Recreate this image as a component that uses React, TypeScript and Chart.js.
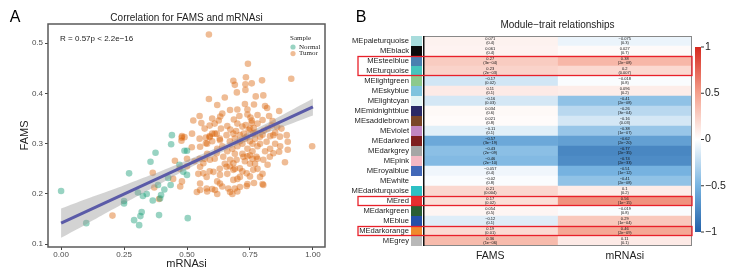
import React, { useEffect, useRef } from "react";
import { Chart, registerables } from "chart.js";
Chart.register(...registerables);

// ---------- Panel A data ----------
const normalPoints: [number, number][] = [
  [0.0, 0.206], [0.1, 0.142], [0.27, 0.241], [0.25, 0.186], [0.25, 0.181], [0.305, 0.203],
  [0.325, 0.196], [0.34, 0.2], [0.29, 0.148], [0.32, 0.164], [0.315, 0.156], [0.31, 0.138],
  [0.355, 0.264], [0.375, 0.282], [0.364, 0.187], [0.385, 0.218], [0.41, 0.209], [0.397, 0.198],
  [0.393, 0.191], [0.389, 0.158], [0.44, 0.317], [0.437, 0.299], [0.435, 0.218], [0.49, 0.286],
  [0.5, 0.286], [0.485, 0.244], [0.5, 0.238], [0.503, 0.152], [0.425, 0.232], [0.47, 0.258],
];
const tumorPoints: [number, number][] = [
  [0.587, 0.517], [0.742, 0.459], [0.734, 0.432], [0.684, 0.425], [0.69, 0.417], [0.732, 0.418],
  [0.757, 0.42], [0.798, 0.426], [0.914, 0.429], [0.732, 0.407], [0.698, 0.402], [0.773, 0.394],
  [0.803, 0.396], [0.587, 0.389], [0.65, 0.392], [0.62, 0.377], [0.73, 0.379], [0.766, 0.378],
  [0.81, 0.375], [0.818, 0.371], [0.866, 0.365], [0.525, 0.346], [0.55, 0.355], [0.557, 0.341],
  [0.59, 0.336], [0.626, 0.346], [0.632, 0.354], [0.671, 0.367], [0.7, 0.368], [0.708, 0.355],
  [0.74, 0.368], [0.74, 0.358], [0.752, 0.352], [0.757, 0.346], [0.78, 0.357], [0.8, 0.347],
  [0.826, 0.355], [0.836, 0.336], [0.858, 0.333], [0.686, 0.348], [0.672, 0.328], [0.733, 0.337],
  [0.757, 0.341], [0.765, 0.331], [0.72, 0.334], [0.745, 0.327], [0.75, 0.33], [0.635, 0.33],
  [0.61, 0.32], [0.479, 0.312], [0.6, 0.32], [0.59, 0.315], [0.575, 0.312], [0.77, 0.322],
  [0.8, 0.318], [0.83, 0.315], [0.805, 0.326], [0.85, 0.322], [0.875, 0.33],
  [0.552, 0.294], [0.575, 0.301], [0.59, 0.313], [0.618, 0.32], [0.631, 0.307], [0.657, 0.317],
  [0.684, 0.32], [0.71, 0.317], [0.737, 0.314], [0.763, 0.32], [0.79, 0.314], [0.816, 0.304],
  [0.843, 0.317], [0.869, 0.314], [0.896, 0.317], [0.9, 0.304], [0.9, 0.288], [0.866, 0.284],
  [0.843, 0.281], [0.829, 0.274], [0.803, 0.268], [0.776, 0.274], [0.75, 0.277], [0.724, 0.274],
  [0.697, 0.268], [0.671, 0.268], [0.644, 0.274], [0.618, 0.281], [0.591, 0.268], [0.565, 0.261],
  [0.552, 0.254], [0.565, 0.241], [0.578, 0.234], [0.605, 0.244], [0.631, 0.238], [0.657, 0.254],
  [0.684, 0.248], [0.71, 0.251], [0.737, 0.241], [0.763, 0.248], [0.79, 0.234], [0.552, 0.221],
  [0.539, 0.204], [0.552, 0.208], [0.578, 0.211], [0.611, 0.208], [0.631, 0.221], [0.664, 0.211],
  [0.671, 0.204], [0.684, 0.228], [0.69, 0.211], [0.71, 0.214], [0.737, 0.216], [0.766, 0.222],
  [0.803, 0.218], [0.71, 0.234], [0.684, 0.261],
  [0.997, 0.295], [0.889, 0.263], [0.82, 0.258], [0.204, 0.157], [0.364, 0.242], [0.37, 0.213],
  [0.389, 0.19], [0.445, 0.23], [0.473, 0.215], [0.48, 0.225], [0.452, 0.266], [0.48, 0.315],
  [0.49, 0.313], [0.478, 0.306], [0.519, 0.293],
  [0.62, 0.29], [0.64, 0.295], [0.66, 0.285], [0.68, 0.29], [0.7, 0.295], [0.72, 0.3],
  [0.74, 0.29], [0.76, 0.285], [0.78, 0.295], [0.6, 0.305], [0.63, 0.31], [0.67, 0.305],
  [0.69, 0.31], [0.71, 0.305], [0.73, 0.31], [0.75, 0.305], [0.77, 0.31], [0.79, 0.3],
  [0.65, 0.26], [0.67, 0.255], [0.69, 0.28], [0.73, 0.265], [0.75, 0.26], [0.77, 0.26],
  [0.72, 0.28], [0.74, 0.275], [0.76, 0.27], [0.61, 0.27], [0.63, 0.25], [0.58, 0.28],
  [0.57, 0.27], [0.55, 0.27], [0.53, 0.265], [0.545, 0.24], [0.59, 0.245], [0.62, 0.225],
  [0.64, 0.215], [0.66, 0.24], [0.7, 0.23], [0.72, 0.245], [0.75, 0.235], [0.78, 0.25],
  [0.8, 0.24], [0.83, 0.29], [0.85, 0.3], [0.87, 0.295], [0.81, 0.285], [0.82, 0.33],
  [0.84, 0.345], [0.78, 0.34], [0.66, 0.335], [0.7, 0.34], [0.64, 0.36], [0.6, 0.35],
  [0.57, 0.33], [0.55, 0.31], [0.52, 0.32], [0.5, 0.27], [0.5, 0.255], [0.47, 0.25],
  [0.58, 0.3], [0.61, 0.34], [0.695, 0.325], [0.725, 0.32], [0.76, 0.3], [0.78, 0.27],
  [0.69, 0.25], [0.74, 0.22], [0.62, 0.2], [0.6, 0.21], [0.58, 0.205], [0.68, 0.2],
  [0.7, 0.205], [0.8, 0.22],
];
const fitX = [0, 1];
const fitY = [0.142, 0.373];
const bandX = [0, 0.1, 0.2, 0.3, 0.4, 0.5, 0.6, 0.7, 0.8, 0.9, 1.0];
const bandLow = [0.113, 0.14, 0.168, 0.195, 0.222, 0.249, 0.274, 0.297, 0.318, 0.337, 0.356];
const bandHigh = [0.171, 0.19, 0.208, 0.227, 0.246, 0.267, 0.288, 0.311, 0.336, 0.363, 0.39];
const scatterXTicks = [0, 0.25, 0.5, 0.75, 1];
const scatterYTicks = [0.1, 0.2, 0.3, 0.4, 0.5];
const corrLabel = "R = 0.57p < 2.2e\u221216";
const legendGroups = ["Normal", "Tumor"];

// ---------- Panel B data ----------
const modules = [
  "MEpaleturquoise", "MEblack", "MEsteelblue", "MEturquoise", "MElightgreen", "MEskyblue",
  "MElightcyan", "MEmidnightblue", "MEsaddlebrown", "MEviolet", "MEdarkred", "MEdarkgrey",
  "MEpink", "MEroyalblue", "MEwhite", "MEdarkturquoise", "MEred", "MEdarkgreen", "MEblue",
  "MEdarkorange", "MEgrey",
];
const moduleColors = [
  "#a8dcdc", "#0a0a0a", "#4a7fb0", "#46c4bc", "#8cc98c", "#7fc4de", "#e2f4f4", "#2a2a66",
  "#7a4628", "#c286c2", "#7e1e1e", "#a6a6a6", "#f4b8c4", "#4268b8", "#ffffff", "#2ec0c4",
  "#e62e2e", "#2a5e34", "#2450a8", "#ef8a2e", "#b8b8b8",
];
const traits = ["FAMS", "mRNAsi"];
const famsCor = [0.071, 0.061, 0.27, 0.23, -0.17, 0.11, -0.16, 0.034, 0.021, -0.11, -0.57, -0.43,
  -0.46, -0.057, -0.02, 0.21, 0.17, 0.054, -0.12, 0.19, 0.36];
const famsP = ["0.4", "0.4", "3e-04", "2e-03", "0.02", "0.1", "0.03", "0.6", "0.8", "0.1", "3e-19",
  "2e-09", "2e-10", "0.4", "0.8", "0.004", "0.02", "0.5", "0.1", "0.01", "1e-06"];
const mrnasiCor = [-0.075, 0.027, 0.38, 0.2, -0.018, 0.096, -0.41, -0.26, -0.16, -0.38, -0.62,
  -0.77, -0.74, -0.51, -0.41, 0.1, 0.56, -0.019, 0.29, 0.46, 0.11];
const mrnasiP = ["0.3", "0.7", "2e-08", "0.007", "0.8", "0.2", "2e-08", "3e-04", "0.03", "1e-07",
  "2e-20", "2e-35", "2e-33", "1e-12", "2e-08", "0.2", "1e-15", "0.8", "1e-04", "2e-09", "0.1"];
const highlightGroups = [["MEsteelblue", "MEturquoise"], ["MEred"], ["MEdarkorange"]];
const colorbarTicks = [1, 0.5, 0, -0.5, -1];

const SANS = "'Liberation Sans', Arial, sans-serif";
const SERIF = "'Liberation Serif', 'Times New Roman', serif";

const colorStops: [number, number[]][] = [
  [-1, [33, 96, 168]],
  [-0.5, [120, 180, 225]],
  [0, [255, 255, 255]],
  [0.5, [244, 160, 140]],
  [1, [214, 40, 30]],
];
function corColor(v: number): string {
  for (let k = 0; k < colorStops.length - 1; k++) {
    const [a, ca] = colorStops[k];
    const [b, cb] = colorStops[k + 1];
    if (v >= a && v <= b) {
      const t = (v - a) / (b - a);
      const c = ca.map((x, i) => Math.round(x + (cb[i] - x) * t));
      return `rgb(${c[0]},${c[1]},${c[2]})`;
    }
  }
  return "#fff";
}
const fmt = (v: number) => String(v).replace("-", "\u2212");

const NORMAL_COL = "rgba(27,158,119,0.45)";
const TUMOR_COL = "rgba(217,95,2,0.42)";

function ScatterPanel() {
  const ref = useRef<HTMLCanvasElement>(null);
  useEffect(() => {
    const deco = {
      id: "decoA",
      afterDraw(chart: any) {
        const { ctx, chartArea: a, scales } = chart;
        ctx.save();
        ctx.strokeStyle = "#5a5a5a";
        ctx.lineWidth = 1.5;
        ctx.strokeRect(a.left, a.top, a.right - a.left, a.bottom - a.top);
        ctx.fillStyle = "#000";
        ctx.font = `16px ${SANS}`;
        ctx.textAlign = "center";
        ctx.textBaseline = "middle";
        ctx.fillText("A", 15, 18);
        ctx.font = `10px ${SANS}`;
        ctx.fillStyle = "#222";
        ctx.fillText("Correlation for FAMS and mRNAsi", (a.left + a.right) / 2, 18);
        ctx.textAlign = "left";
        ctx.font = `8px ${SANS}`;
        ctx.fillText(corrLabel, scales.x.getPixelForValue(0) - 1, a.top + 15);
        // legend
        ctx.font = `7px ${SERIF}`;
        ctx.fillStyle = "#222";
        ctx.fillText("Sample", a.right - 35, a.top + 14);
        const cols = [NORMAL_COL, TUMOR_COL];
        legendGroups.forEach((g, i) => {
          const y = a.top + 23 + i * 6.6;
          ctx.fillStyle = cols[i];
          ctx.beginPath();
          ctx.arc(a.right - 32, y, 2.6, 0, Math.PI * 2);
          ctx.fill();
          ctx.fillStyle = "#222";
          ctx.fillText(g, a.right - 26, y);
        });
        ctx.restore();
      },
    };
    const chart = new Chart(ref.current!, {
      type: "scatter",
      data: {
        datasets: [
          {
            label: "fit",
            data: fitX.map((x, i) => ({ x, y: fitY[i] })),
            showLine: true,
            borderColor: "#5b5ba8",
            borderWidth: 3,
            pointRadius: 0,
            order: 0,
          } as any,
          {
            label: "bandHigh",
            data: bandX.map((x, i) => ({ x, y: bandHigh[i] })),
            showLine: true,
            borderWidth: 0,
            borderColor: "rgba(0,0,0,0)",
            pointRadius: 0,
            fill: "+1",
            backgroundColor: "rgba(150,150,150,0.42)",
            tension: 0.4,
            order: 1,
          },
          {
            label: "bandLow",
            data: bandX.map((x, i) => ({ x, y: bandLow[i] })),
            showLine: true,
            borderWidth: 0,
            borderColor: "rgba(0,0,0,0)",
            pointRadius: 0,
            tension: 0.4,
            order: 2,
          },
          {
            label: "Normal",
            data: normalPoints.map(([x, y]) => ({ x, y })),
            pointRadius: 3.3,
            borderWidth: 0,
            backgroundColor: NORMAL_COL,
            order: 3,
          },
          {
            label: "Tumor",
            data: tumorPoints.map(([x, y]) => ({ x, y })),
            pointRadius: 3.3,
            borderWidth: 0,
            backgroundColor: TUMOR_COL,
            order: 4,
          },
        ],
      },
      options: {
        animation: false,
        responsive: false,
        devicePixelRatio: 1,
        layout: { padding: { left: 0, top: 24, right: 15, bottom: 0 } },
        plugins: { legend: { display: false }, tooltip: { enabled: false } },
        scales: {
          x: {
            type: "linear",
            min: -0.052,
            max: 1.048,
            afterBuildTicks: (s: any) => {
              s.ticks = scatterXTicks.map((v) => ({ value: v }));
            },
            afterFit: (s: any) => {
              s.height = 29;
            },
            ticks: {
              callback: (v: any) => Number(v).toFixed(2),
              font: { family: SANS, size: 8 },
              color: "#4d4d4d",
              padding: 0,
              maxRotation: 0,
            },
            grid: { display: true, drawOnChartArea: false, tickLength: 3, color: "#444" },
            border: { display: false },
            title: {
              display: true,
              text: "mRNAsi",
              font: { family: SANS, size: 11 },
              color: "#222",
              padding: { top: 0, bottom: 5 },
            },
          },
          y: {
            type: "linear",
            min: 0.0946,
            max: 0.538,
            afterBuildTicks: (s: any) => {
              s.ticks = scatterYTicks.map((v) => ({ value: v }));
            },
            afterFit: (s: any) => {
              s.width = 48;
            },
            ticks: {
              callback: (v: any) => Number(v).toFixed(1),
              font: { family: SANS, size: 8 },
              color: "#4d4d4d",
              padding: 2,
            },
            grid: { display: true, drawOnChartArea: false, tickLength: 3, color: "#444" },
            border: { display: false },
            title: {
              display: true,
              text: "FAMS",
              font: { family: SANS, size: 11 },
              color: "#222",
              padding: { top: 18, bottom: 0 },
            },
          },
        },
      },
      plugins: [deco],
    } as any);
    return () => chart.destroy();
  }, []);
  return <canvas ref={ref} width={340} height={276} style={{ position: "absolute", left: 0, top: 0 }} />;
}

function HeatmapPanel() {
  const ref = useRef<HTMLCanvasElement>(null);
  useEffect(() => {
    const cors = [famsCor, mrnasiCor];
    const ps = [famsP, mrnasiP];
    const deco = {
      id: "decoB",
      afterDatasetsDraw(chart: any) {
        const { ctx } = chart;
        ctx.save();
        ctx.fillStyle = "#111";
        ctx.textAlign = "center";
        ctx.textBaseline = "middle";
        ctx.font = `4px ${SANS}`;
        traits.forEach((_, j) => {
          const meta = chart.getDatasetMeta(j);
          meta.data.forEach((el: any, i: number) => {
            const { x, y, base } = el.getProps(["x", "y", "base"], true);
            const cx = (x + base) / 2;
            ctx.fillText(fmt(cors[j][i]), cx, y - 2);
            ctx.fillText(`(${ps[j][i].replace("-", "\u2212")})`, cx, y + 2.3);
          });
        });
        ctx.restore();
      },
      afterDraw(chart: any) {
        const { ctx, chartArea: a, scales } = chart;
        const yS = scales.y;
        const half = (yS.getPixelForValue(1) - yS.getPixelForValue(0)) / 2;
        ctx.save();
        // swatches
        modules.forEach((m, i) => {
          const yc = yS.getPixelForValue(i);
          ctx.fillStyle = moduleColors[i];
          ctx.fillRect(a.left - 12, yc - half, 11, half * 2);
        });
        // border
        ctx.strokeStyle = "#888";
        ctx.lineWidth = 1;
        ctx.strokeRect(a.left + 0.5, a.top + 0.5, a.right - a.left - 1, a.bottom - a.top - 1);
        ctx.strokeStyle = "#111";
        ctx.lineWidth = 1.5;
        ctx.beginPath();
        ctx.moveTo(a.left + 0.75, a.top);
        ctx.lineTo(a.left + 0.75, a.bottom);
        ctx.stroke();
        // highlight boxes
        ctx.strokeStyle = "#e8202a";
        ctx.lineWidth = 1.3;
        highlightGroups.forEach((g) => {
          const idx = g.map((n) => modules.indexOf(n));
          const top = yS.getPixelForValue(Math.min(...idx)) - half + 0.5;
          const bot = yS.getPixelForValue(Math.max(...idx)) + half - 0.5;
          ctx.strokeRect(18, top, a.right - 18, bot - top);
        });
        // labels
        ctx.fillStyle = "#000";
        ctx.textAlign = "center";
        ctx.textBaseline = "middle";
        ctx.font = `16px ${SANS}`;
        ctx.fillText("B", 21, 18);
        ctx.font = `10px ${SANS}`;
        ctx.fillStyle = "#222";
        ctx.fillText("Module\u2212trait relationships", (a.left + a.right) / 2, 25);
        // colorbar
        const cbX = a.right + 3;
        const cbTop = 47;
        const cbBot = 232;
        const grad = ctx.createLinearGradient(0, cbTop, 0, cbBot);
        colorStops.forEach(([v, c]) => {
          grad.addColorStop((1 - v) / 2, `rgb(${c[0]},${c[1]},${c[2]})`);
        });
        ctx.fillStyle = grad;
        ctx.fillRect(cbX, cbTop, 6, cbBot - cbTop);
        ctx.strokeStyle = "#333";
        ctx.lineWidth = 1;
        ctx.font = `10.5px ${SANS}`;
        ctx.fillStyle = "#222";
        ctx.textAlign = "left";
        colorbarTicks.forEach((v) => {
          const y = cbTop + ((1 - v) / 2) * (cbBot - cbTop);
          ctx.beginPath();
          ctx.moveTo(cbX + 6, y);
          ctx.lineTo(cbX + 9, y);
          ctx.stroke();
          ctx.fillText(fmt(v), cbX + 10, y);
        });
        ctx.restore();
      },
    };
    const chart = new Chart(ref.current!, {
      type: "bar",
      data: {
        labels: modules,
        datasets: traits.map((t, j) => ({
          label: t,
          data: modules.map(() => [j, j + 1]),
          backgroundColor: cors[j].map((v) => corColor(v)),
          borderWidth: 0,
          borderSkipped: false,
          barPercentage: 1,
          categoryPercentage: 1,
          grouped: false,
        })),
      },
      options: {
        indexAxis: "y",
        animation: false,
        responsive: false,
        devicePixelRatio: 1,
        layout: { padding: { left: 0, top: 36, right: 40, bottom: 0 } },
        plugins: { legend: { display: false }, tooltip: { enabled: false } },
        scales: {
          x: {
            type: "linear",
            min: 0,
            max: traits.length,
            afterBuildTicks: (s: any) => {
              s.ticks = traits.map((_, j) => ({ value: j + 0.5 }));
            },
            afterFit: (s: any) => {
              s.height = 30;
            },
            ticks: {
              callback: (_v: any, i: number) => traits[i],
              font: { family: SANS, size: 10.5 },
              color: "#222",
              padding: 4,
              maxRotation: 0,
            },
            grid: { display: false, drawTicks: false },
            border: { display: false },
          },
          y: {
            type: "category",
            afterFit: (s: any) => {
              s.width = 83;
            },
            ticks: {
              autoSkip: false,
              font: { family: SANS, size: 7.6 },
              color: "#222",
              padding: 14,
            },
            grid: { display: false, drawTicks: false },
            border: { display: false },
          },
        },
      },
      plugins: [deco],
    } as any);
    return () => chart.destroy();
  }, []);
  return <canvas ref={ref} width={392} height={276} style={{ position: "absolute", left: 340, top: 0 }} />;
}

export default function App() {
  return (
    <div style={{ position: "fixed", left: 0, top: 0, width: 732, height: 276, background: "#fff" }}>
      <ScatterPanel />
      <HeatmapPanel />
    </div>
  );
}
